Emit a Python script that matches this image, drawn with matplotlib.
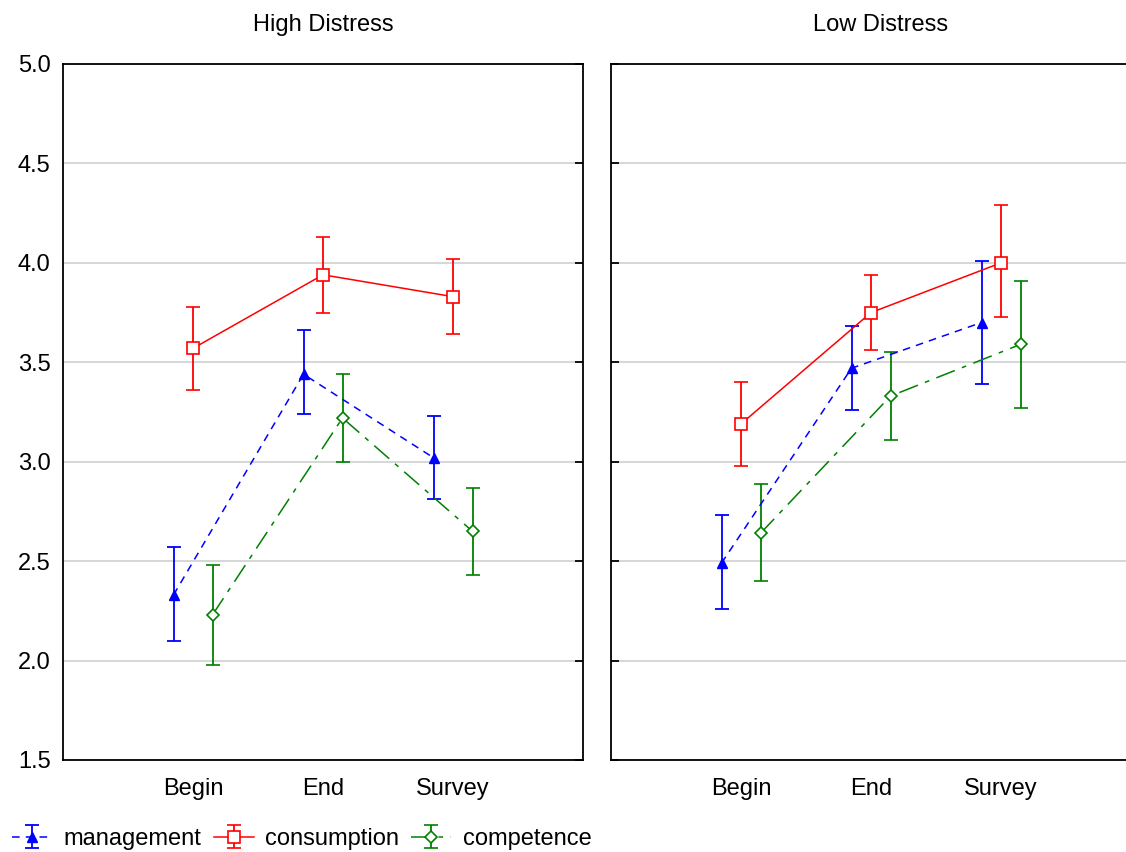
import matplotlib
matplotlib.use("Agg")
import matplotlib.pyplot as plt
import numpy as np

plt.rcParams["font.family"] = ["Liberation Sans", "DejaVu Sans"]

phases = ["Begin", "End", "Survey"]
panels = ["High Distress", "Low Distress"]

# means and upper/lower CI limits, per panel
management = [[2.33, 3.44, 3.02], [2.49, 3.47, 3.70]]
management_hi = [[2.57, 3.66, 3.23], [2.73, 3.68, 4.01]]
management_lo = [[2.10, 3.24, 2.81], [2.26, 3.26, 3.39]]

consumption = [[3.57, 3.94, 3.83], [3.19, 3.75, 4.00]]
consumption_hi = [[3.78, 4.13, 4.02], [3.40, 3.94, 4.29]]
consumption_lo = [[3.36, 3.75, 3.64], [2.98, 3.56, 3.73]]

competence = [[2.23, 3.22, 2.65], [2.64, 3.33, 3.59]]
competence_hi = [[2.48, 3.44, 2.87], [2.89, 3.55, 3.91]]
competence_lo = [[1.98, 3.00, 2.43], [2.40, 3.11, 3.27]]

series = [
    ("management", management, management_hi, management_lo, "#0000ff", "^", -0.15,
     (0, (5, 4)), dict(markersize=7, markerfacecolor="#0000ff")),
    ("consumption", consumption, consumption_hi, consumption_lo, "#ff0000", "s", 0.0,
     "-", dict(markersize=8, markerfacecolor="white", markeredgewidth=1.2)),
    ("competence", competence, competence_hi, competence_lo, "#008000", "D", 0.15,
     (0, (13, 5, 3, 5)), dict(markersize=6, markerfacecolor="white", markeredgewidth=1.2)),
]

fig = plt.figure(figsize=(11.26, 8.52), dpi=100)
W, H = 1126, 852
axes = [
    fig.add_axes([63 / W, 1 - 760 / H, 520 / W, 696 / H]),
    fig.add_axes([611 / W, 1 - 760 / H, 540 / W, 696 / H]),
]
xmax = [4.0, 4.0 * 540 / 520]

x = np.arange(1, len(phases) + 1)
handles = []
for p, ax in enumerate(axes):
    for name, vals, hi, lo, color, marker, off, ls, mk in series:
        v = np.array(vals[p])
        yerr = [v - np.array(lo[p]), np.array(hi[p]) - v]
        eb = ax.errorbar(x + off, v, yerr=yerr, color=color, marker=marker,
                         linestyle=ls, linewidth=1.1, elinewidth=1.3, capsize=5,
                         capthick=1.3, markeredgecolor=color, label=name, **mk)
        if p == 0:
            handles.append(eb)
    ax.set_xlim(0, xmax[p])
    ax.set_ylim(1.5, 5.0)
    ax.set_yticks(np.arange(1.5, 5.01, 0.5))
    ax.set_xticks(x)
    ax.set_xticklabels(phases, fontsize=17)
    ax.tick_params(axis="x", length=0, pad=13)
    ax.grid(axis="y", color="#d3d3d3", linewidth=1.3)
    ax.set_axisbelow(True)
    for s in ax.spines.values():
        s.set_linewidth(1.3)
    ax.set_title(panels[p], fontsize=17, pad=24)

axes[0].tick_params(axis="y", left=False, right=True, direction="in", length=6,
                    width=1.3, labelsize=17, pad=9)
axes[1].tick_params(axis="y", left=True, right=True, direction="in", length=6,
                    width=1.3, labelleft=False)

fig.legend(handles=handles, loc="lower left", bbox_to_anchor=(-0.002, -12 / H), ncol=3,
           frameon=False, fontsize=17, handlelength=1.7, handletextpad=0.5,
           columnspacing=0.5, borderaxespad=0.2)

fig.savefig("out.png", dpi=100)
